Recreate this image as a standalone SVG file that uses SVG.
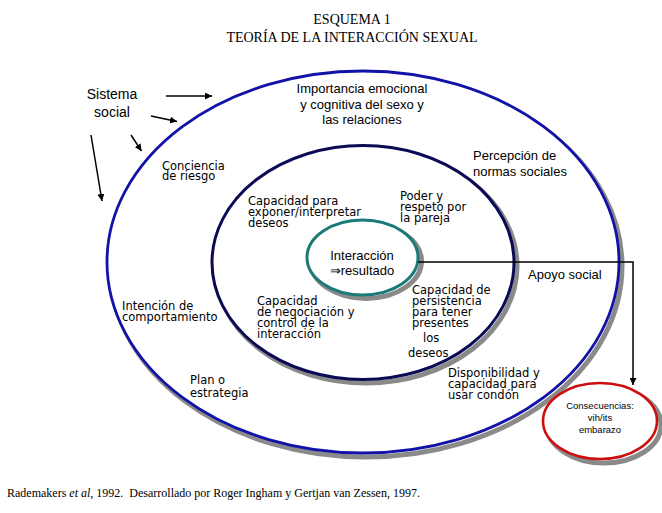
<svg xmlns="http://www.w3.org/2000/svg" width="662" height="513" viewBox="0 0 662 513">
<style>
.serif{font-family:"Liberation Serif","Times New Roman",serif;fill:#000}
.tah{font-family:"Liberation Sans",Arial,sans-serif;font-size:13px;fill:#000}
.small{font-size:9.5px}
.big{font-size:14px}
.ver{font-family:"DejaVu Sans",Verdana,sans-serif;font-size:11.5px;fill:#000}
.shadow{fill:none;stroke:#8a8a8a;stroke-width:5}
.conn{fill:none;stroke:#000;stroke-width:1.5}
</style>
<defs>
<marker id="ah" viewBox="0 0 10 10" refX="10" refY="5" markerWidth="7" markerHeight="7" markerUnits="userSpaceOnUse" orient="auto">
<path d="M0,0 L10,5 L0,10 z" fill="#000"/>
</marker>
<marker id="ah2" viewBox="0 0 10 10" refX="10" refY="5" markerWidth="10" markerHeight="7" markerUnits="userSpaceOnUse" orient="auto">
<path d="M0,0 L10,5 L0,10 z" fill="#000"/>
</marker>
</defs>
<rect width="662" height="513" fill="#fff"/>
<g id="title">
<text class="serif" x="352" y="24" font-size="14" text-anchor="middle">ESQUEMA 1</text>
<text class="serif" x="352" y="42" font-size="14" text-anchor="middle">TEORÍA DE LA INTERACCIÓN SEXUAL</text>
</g>
<g id="outer-ring">
<ellipse class="shadow" cx="366" cy="266" rx="256" ry="191"/>
<ellipse cx="363" cy="262" rx="256" ry="191" fill="#fff" stroke="#1212a8" stroke-width="2.8"/>
</g>
<g id="middle-ring">
<ellipse class="shadow" cx="366" cy="266" rx="151" ry="117"/>
<ellipse cx="363" cy="262.5" rx="151" ry="117" fill="#fff" stroke="#0b0b55" stroke-width="3"/>
</g>
<g id="inner-node">
<ellipse class="shadow" cx="366" cy="261" rx="55.5" ry="37.5"/>
<ellipse cx="362.5" cy="257.5" rx="55.5" ry="37.5" fill="#fff" stroke="#1b7a78" stroke-width="3"/>
<text class="tah" x="362" y="260" text-anchor="middle">Interacción</text>
<text class="tah" x="362" y="275" text-anchor="middle">⇒resultado</text>
</g>
<g id="consecuencias">
<ellipse class="shadow" cx="604" cy="425" rx="57" ry="38"/>
<ellipse cx="600" cy="421" rx="57" ry="38" fill="#fff" stroke="#cc1010" stroke-width="2.6"/>
<text class="tah small" x="600" y="409" text-anchor="middle">Consecuencias:</text>
<text class="tah small" x="600" y="421" text-anchor="middle">vih/its</text>
<text class="tah small" x="600" y="433" text-anchor="middle">embarazo</text>
</g>
<g id="sistema-social">
<text class="tah big" x="112" y="99" text-anchor="middle">Sistema</text>
<text class="tah big" x="112" y="117" text-anchor="middle">social</text>
</g>
<g id="connectors">
<line class="conn" x1="166" y1="96" x2="212" y2="96" marker-end="url(#ah)"/>
<line class="conn" x1="151" y1="116" x2="177" y2="121.5" marker-end="url(#ah)"/>
<line class="conn" x1="131" y1="135" x2="141.5" y2="151" marker-end="url(#ah)"/>
<line class="conn" x1="91" y1="135" x2="102" y2="201" marker-end="url(#ah)"/>
<polyline class="conn" points="418,262 633,262 633,385" marker-end="url(#ah2)"/>
</g>
<g id="label-importancia">
<text class="tah" x="362" y="93" text-anchor="middle">Importancia emocional</text>
<text class="tah" x="362" y="109" text-anchor="middle">y cognitiva del sexo y</text>
<text class="tah" x="362" y="124" text-anchor="middle">las relaciones</text>
</g>
<g id="label-percepcion">
<text class="tah" x="473" y="160">Percepción de</text>
<text class="tah" x="473" y="176">normas sociales</text>
</g>
<g id="label-apoyo">
<text class="tah" x="528" y="279">Apoyo social</text>
</g>
<g id="label-conciencia">
<text class="ver" x="162" y="170">Conciencia</text>
<text class="ver" x="162" y="180">de riesgo</text>
</g>
<g id="label-intencion">
<text class="ver" x="122" y="310">Intención de</text>
<text class="ver" x="122" y="321">comportamiento</text>
</g>
<g id="label-plan">
<text class="ver" x="190" y="384">Plan o</text>
<text class="ver" x="190" y="397">estrategia</text>
</g>
<g id="label-exponer">
<text class="ver" x="248" y="205">Capacidad para</text>
<text class="ver" x="248" y="216">exponer/interpretar</text>
<text class="ver" x="248" y="227">deseos</text>
</g>
<g id="label-poder">
<text class="ver" x="400" y="200">Poder y</text>
<text class="ver" x="400" y="211">respeto por</text>
<text class="ver" x="400" y="222">la pareja</text>
</g>
<g id="label-negociacion">
<text class="ver" x="257" y="305">Capacidad</text>
<text class="ver" x="257" y="316">de negociación y</text>
<text class="ver" x="257" y="327">control de la</text>
<text class="ver" x="257" y="338">interacción</text>
</g>
<g id="label-persistencia">
<text class="ver" x="412" y="294">Capacidad de</text>
<text class="ver" x="412" y="305">persistencia</text>
<text class="ver" x="412" y="316">para tener</text>
<text class="ver" x="412" y="327">presentes</text>
<text class="ver" x="423" y="342">los</text>
<text class="ver" x="408" y="356.5">deseos</text>
</g>
<g id="label-disponibilidad">
<text class="ver" x="448" y="377">Disponibilidad y</text>
<text class="ver" x="448" y="388">capacidad para</text>
<text class="ver" x="448" y="398.5">usar condón</text>
</g>
<g id="footer">
<text class="serif" x="7" y="497" font-size="12" xml:space="preserve">Rademakers <tspan font-style="italic">et al</tspan>, 1992.  Desarrollado por Roger Ingham y Gertjan van Zessen, 1997.</text>
</g>
</svg>
